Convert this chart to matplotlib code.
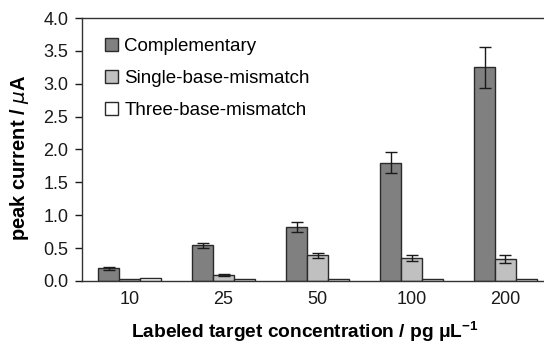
import matplotlib
matplotlib.use("Agg")
import matplotlib.pyplot as plt
import numpy as np
from matplotlib.patches import Patch

plt.rcParams['font.family'] = ['Liberation Sans', 'DejaVu Sans']

categories = ["10", "25", "50", "100", "200"]
series_names = ["Complementary", "Single-base-mismatch", "Three-base-mismatch"]
complementary = [0.19, 0.54, 0.82, 1.80, 3.25]
complementary_err = [0.02, 0.04, 0.08, 0.16, 0.31]
single_mismatch = [0.03, 0.09, 0.39, 0.35, 0.33]
single_mismatch_err = [0.0, 0.01, 0.04, 0.04, 0.06]
three_mismatch = [0.04, 0.03, 0.03, 0.03, 0.03]
three_mismatch_err = [0.0, 0.0, 0.0, 0.0, 0.0]

colors = ["#808080", "#c0c0c0", "#ffffff"]
edge = "#2a2a2a"

fig = plt.figure(figsize=(5.44, 3.43), dpi=100)
ax = fig.add_axes([0.151, 0.181, 0.849, 0.7665])

x = np.arange(len(categories))
w = 0.223
data = [(complementary, complementary_err),
        (single_mismatch, single_mismatch_err),
        (three_mismatch, three_mismatch_err)]
for i, ((vals, errs), c) in enumerate(zip(data, colors)):
    pos = x + (i - 1) * w
    ax.bar(pos, vals, width=w, color=c, edgecolor=edge, linewidth=1.0, zorder=2)
    errs_arr = np.array(errs)
    mask = errs_arr > 0
    if mask.any():
        ax.errorbar(pos[mask], np.array(vals)[mask], yerr=errs_arr[mask], fmt="none",
                    ecolor="#1a1a1a", elinewidth=1.0, capsize=4, capthick=1.0, zorder=3)

ax.set_xlim(-0.505, 4.41)
ax.set_ylim(0, 4.0)
yt = np.arange(0, 4.01, 0.5)
ax.set_yticks(yt)
ax.set_yticklabels([f"{v:.1f}" for v in yt])
ax.set_xticks(x)
ax.set_xticklabels(categories)
ax.tick_params(axis="x", length=0, pad=7, labelsize=13, colors="#1a1a1a")
ax.tick_params(axis="y", length=5, width=1, pad=5, labelsize=13, colors="#1a1a1a", direction="out")

for s in ["left", "bottom", "top"]:
    ax.spines[s].set_color("#333333")
    ax.spines[s].set_linewidth(1.0)
ax.spines["right"].set_visible(False)

ax.set_ylabel(r"peak current / $\mu$A", fontsize=14.5, fontweight="bold")
ax.yaxis.set_label_coords(-0.11, 0.468)
ax.set_xlabel(r"Labeled target concentration / pg $\mathregular{\mu}$L$^{\mathregular{-1}}$",
              fontsize=13.8, fontweight="bold")
ax.xaxis.set_label_coords(0.483, -0.145)

handles = [Patch(facecolor=c, edgecolor=edge, linewidth=1.0) for c in colors]
leg = ax.legend(handles, series_names, loc="upper left", bbox_to_anchor=(0.012, 0.99),
                frameon=False, fontsize=13.5, handlelength=0.7, handleheight=0.7,
                labelspacing=0.8, handletextpad=0.35)

fig.savefig("out.png", dpi=100)
